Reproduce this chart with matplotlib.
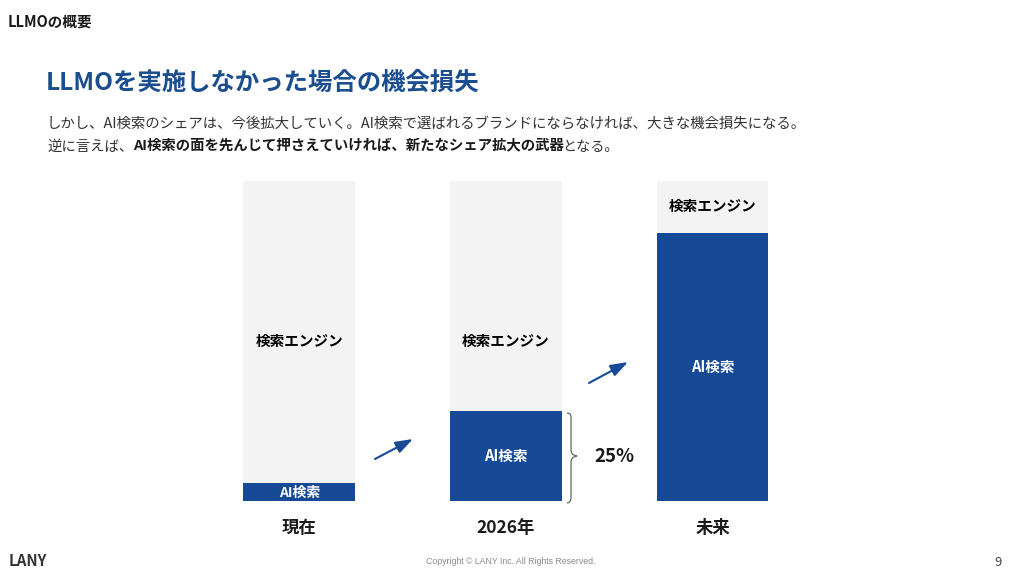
import matplotlib
matplotlib.use("Agg")
import matplotlib.pyplot as plt
from matplotlib.patches import FancyArrowPatch, PathPatch
from matplotlib.path import Path

W, H = 1023, 573
NAVY, TITLE, LIGHT, INK = "#174A96", "#1B4E8E", "#F3F3F3", "#1A1A1A"

categories = ["現在", "2026年", "未来"]
ai_share = [5.6, 28.1, 83.8]
search_share = [94.4, 71.9, 16.2]
ai_label = "AI検索"
search_label = "検索エンジン"
callout = "25%"

plt.rcParams["font.family"] = ["Noto Sans CJK JP", "DejaVu Sans"]

fig = plt.figure(figsize=(W / 100, H / 100), dpi=100, facecolor="white")

# page layer in pixel coordinates
pg = fig.add_axes([0, 0, 1, 1])
pg.set_xlim(0, W); pg.set_ylim(H, 0); pg.axis("off")

# chart layer, bars span y 181..501 px
ax = fig.add_axes([243 / W, (H - 501) / H, 525 / W, 320 / H])
ax.set_xlim(-0.272, 2.268); ax.set_ylim(0, 100); ax.axis("off")
x = range(len(categories))
ax.bar(x, ai_share, width=0.54, color=NAVY)
ax.bar(x, search_share, width=0.54, bottom=ai_share, color=LIGHT)

for i, cat in enumerate(categories):
    ai_fs = 10 if i == 0 else 10.5
    ax.text(i, ai_share[i] / 2 - (0.2 if i == 0 else 0), ai_label, color="white", fontsize=ai_fs,
            fontweight="bold", ha="center", va="center")
    # label sits mid-bar unless the segment is too short for that
    ypos = 50 if search_share[i] > 50 else ai_share[i] + search_share[i] / 2 + 0.3
    ax.text(i, ypos, search_label, color="black", fontsize=10.5,
            fontweight="bold", ha="center", va="center")
    ax.annotate(cat, (i, 0), xytext=(0, -19.5), textcoords="offset points", color=INK,
                fontsize=12.5, fontweight="bold", ha="center", va="center", annotation_clip=False)

# headers
pg.text(8, 21.5, "LLMOの概要", fontsize=10.5, fontweight="bold", color=INK, va="center")
pg.text(46, 83, "LLMOを実施しなかった場合の機会損失", fontsize=17.6, fontweight="bold",
        color=TITLE, va="center")
pg.text(47, 124, "しかし、AI検索のシェアは、今後拡大していく。AI検索で選ばれるブランドにならなければ、"
        "大きな機会損失になる。", fontsize=10.4, color="#333333", va="center")
pg.text(47, 146.5, "逆に言えば、", fontsize=10.4, color="#333333", va="center")
pg.text(133, 146.5, "AI検索の面を先んじて押さえていければ、新たなシェア拡大の武器", fontsize=10.4,
        fontweight="bold", color=INK, va="center")
pg.text(562, 146.5, "となる。", fontsize=10.2, color="#333333", va="center")

# arrows between bars
for start, end in (((375, 459), (413, 439)), ((589, 383), (628, 362))):
    pg.add_patch(FancyArrowPatch(start, end, arrowstyle="-|>,head_length=0.75,head_width=0.26",
                                 mutation_scale=14, lw=1.5, color=NAVY, shrinkA=0, shrinkB=0))

# brace next to the 2026 bar
verts = [(567, 413), (571, 413), (571, 417), (571, 450), (571, 455), (577, 456),
         (571, 457), (571, 462), (571, 497), (571, 503), (567, 503)]
codes = [Path.MOVETO, Path.CURVE3, Path.CURVE3, Path.LINETO, Path.CURVE3, Path.CURVE3,
         Path.CURVE3, Path.CURVE3, Path.LINETO, Path.CURVE3, Path.CURVE3]
pg.add_patch(PathPatch(Path(verts, codes), fc="none", ec="#666666", lw=0.9))
pg.text(614, 457, callout, fontsize=13.5, fontweight="bold", color=INK, ha="center", va="center")

# footer
pg.text(9, 561.5, "LANY", fontsize=10.8, fontweight="bold", color="#333333", va="center")
pg.text(511, 561, "Copyright © LANY Inc. All Rights Reserved.", fontsize=6.3, color="#8A8A8A",
        ha="center", va="center", family=["Liberation Sans"])
pg.text(998, 562, "9", fontsize=9.5, color="#444444", ha="center", va="center")

fig.savefig("out.png", dpi=100)
